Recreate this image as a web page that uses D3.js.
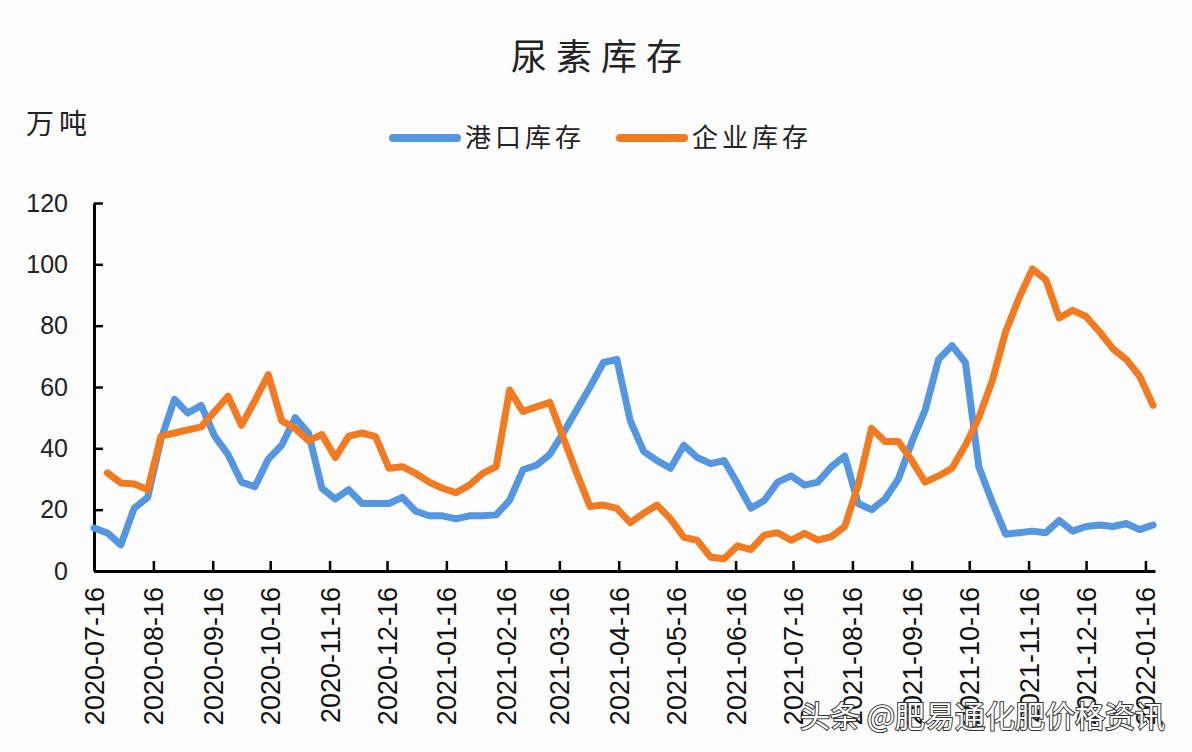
<!DOCTYPE html>
<html>
<head>
<meta charset="utf-8">
<script src="https://d3js.org/d3.v7.min.js"></script>
<style>
  body { margin: 0; background: #fdfdfd; }
  text { font-family: "Liberation Sans", Arial, sans-serif; }
  .cjk { font-family: "Noto Sans CJK SC", sans-serif; }
</style>
</head>
<body>
<div id="chart"></div>
<script>
// weekly data, first week 2020-07-16, last week 2022-01-20
var firstWeek = "2020-07-16";
var lastWeek = "2022-01-20";

// 港口库存 (万吨)
var portStock = [
  14, 12.4, 8.5, 20.5, 24, 43, 56, 51.5, 54, 44,
  38, 29, 27.5, 36.5, 41, 50, 45, 27, 23.5, 26.5,
  22, 22, 22, 24, 19.5, 18, 18, 17, 18, 18,
  18.3, 23, 33, 34.5, 38, 45, 52.5, 60, 68, 69,
  49, 39, 36, 33.5, 41, 37, 35, 36, 28.5, 20.5,
  23, 29, 31, 28, 29, 34, 37.5, 22, 20, 23.5,
  30, 42, 52.5, 69, 73.5, 68, 34, 22.5, 12, 12.5,
  13, 12.5, 16.5, 13, 14.5, 15, 14.5, 15.5, 13.5, 15
];

// 企业库存 (万吨), no value for the first week
var plantStock = [
  null, 32, 28.7, 28.4, 26.5, 44, 45, 46, 47, 52,
  57, 47.5, 55.5, 64, 49, 46.5, 42.5, 44.5, 37, 44,
  45, 43.8, 33.5, 34, 31.8, 29, 27, 25.5, 28, 31.8,
  34, 59, 52, 53.5, 55, 43.5, 32, 21, 21.5, 20.4,
  15.8, 18.8, 21.5, 17, 11, 10, 4.5, 4, 8.2, 7,
  11.7, 12.5, 10, 12.3, 10.1, 11.2, 14.5, 28, 46.5, 42.2,
  42.2, 36, 29, 31, 33.5, 41, 50, 62, 78, 89,
  98.5, 95, 82.5, 85, 83, 78, 72.5, 69, 63.5, 54
];

var tickLabels = [
  "2020-07-16", "2020-08-16", "2020-09-16", "2020-10-16", "2020-11-16",
  "2020-12-16", "2021-01-16", "2021-02-16", "2021-03-16", "2021-04-16",
  "2021-05-16", "2021-06-16", "2021-07-16", "2021-08-16", "2021-09-16",
  "2021-10-16", "2021-11-16", "2021-12-16", "2022-01-16"
];
var yTicks = [0, 20, 40, 60, 80, 100, 120];

var seriesNames = ["港口库存", "企业库存"];
var colors = ["#5496e0", "#f27b22"];

var W = 1192, H = 752;
var margin = {top: 203, right: 37, bottom: 181, left: 94},
    width = W - margin.left - margin.right,
    height = H - margin.top - margin.bottom;

var parse = d3.utcParse("%Y-%m-%d");
var weeks = d3.utcDay.range(parse(firstWeek), d3.utcDay.offset(parse(lastWeek), 1), 7);

var svg = d3.select("#chart")
  .append("svg")
    .attr("width", W)
    .attr("height", H);

// title
svg.append("text")
  .attr("class", "cjk")
  .attr("x", 601)
  .attr("y", 70)
  .attr("text-anchor", "middle")
  .style("font-size", "36px")
  .style("letter-spacing", "9px")
  .attr("fill", "#222")
  .text("尿素库存");

// unit
svg.append("text")
  .attr("class", "cjk")
  .attr("x", 26)
  .attr("y", 134)
  .style("font-size", "28px")
  .style("letter-spacing", "5px")
  .attr("fill", "#222")
  .text("万吨");

// legend
var legendX = [390, 617];
seriesNames.forEach(function(name, i) {
  svg.append("line")
    .attr("x1", legendX[i] + 3)
    .attr("x2", legendX[i] + 67)
    .attr("y1", 138)
    .attr("y2", 138)
    .attr("stroke", colors[i])
    .attr("stroke-width", 8)
    .attr("stroke-linecap", "round");
  svg.append("text")
    .attr("class", "cjk")
    .attr("x", legendX[i] + 75)
    .attr("y", 147)
    .style("font-size", "26px")
    .style("letter-spacing", "4px")
    .attr("fill", "#222")
    .text(name);
});

var g = svg.append("g")
  .attr("transform", "translate(" + margin.left + "," + margin.top + ")");

// scales
var x = d3.scaleUtc()
  .domain([parse(firstWeek), d3.utcDay.offset(parse(lastWeek), 1)])
  .range([0, width]);

var y = d3.scaleLinear()
  .domain([0, 120])
  .range([height, 0]);

// x axis, ticks point up into the plot
var xAxis = g.append("g")
  .attr("transform", "translate(0," + height + ")")
  .call(d3.axisBottom(x)
    .tickValues(tickLabels.map(parse))
    .tickSize(-10)
    .tickSizeOuter(0)
    .tickFormat(d3.utcFormat("%Y-%m-%d")));
xAxis.select(".domain").attr("stroke", "#000").attr("stroke-width", 3);
xAxis.selectAll(".tick line").attr("stroke", "#000").attr("stroke-width", 2.5);
xAxis.selectAll("text")
  .attr("transform", "translate(0,16)rotate(-90)")
  .attr("x", 0)
  .attr("y", 0)
  .attr("dy", "0.35em")
  .style("text-anchor", "end")
  .style("font-size", "27px")
  .attr("fill", "#111");

// y axis, ticks point right into the plot
var yAxis = g.append("g")
  .call(d3.axisLeft(y)
    .tickValues(yTicks)
    .tickSize(-9)
    .tickSizeOuter(0)
    .tickPadding(26));
yAxis.select(".domain").attr("stroke", "#000").attr("stroke-width", 3);
yAxis.selectAll(".tick line").attr("stroke", "#000").attr("stroke-width", 2.5);
yAxis.selectAll("text")
  .style("font-size", "25px")
  .attr("fill", "#222");

// lines
[portStock, plantStock].forEach(function(values, i) {
  var data = values.map(function(v, j) { return {date: weeks[j], value: v}; });
  g.append("path")
    .datum(data)
    .attr("fill", "none")
    .attr("stroke", colors[i])
    .attr("stroke-width", 7)
    .attr("stroke-linejoin", "round")
    .attr("stroke-linecap", "round")
    .attr("d", d3.line()
      .defined(function(d) { return d.value !== null; })
      .x(function(d) { return x(d.date); })
      .y(function(d) { return y(d.value); }));
});

// watermark
svg.append("text")
  .attr("class", "cjk")
  .attr("x", 800)
  .attr("y", 727)
  .style("font-size", "30px")
  .attr("fill", "#fff")
  .attr("stroke", "#333")
  .attr("stroke-width", 2)
  .style("paint-order", "stroke")
  .text("头条 @肥易通化肥价格资讯");
</script>
</body>
</html>
